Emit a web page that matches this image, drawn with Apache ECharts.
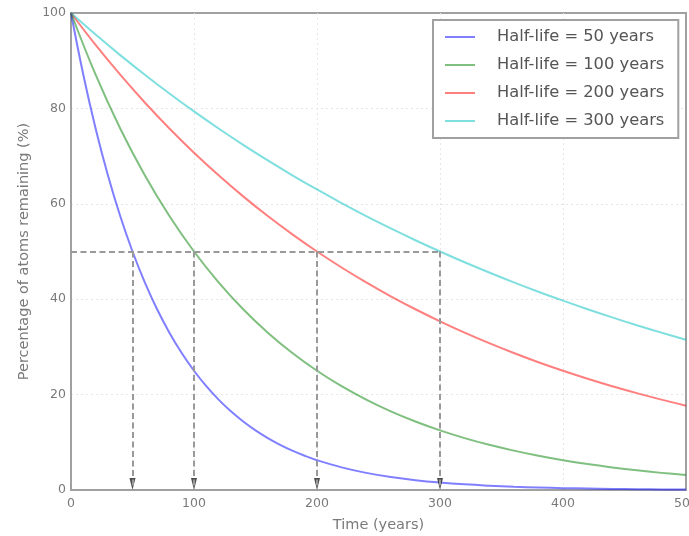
<!DOCTYPE html>
<html>
<head>
<meta charset="utf-8">
<script src="https://cdn.jsdelivr.net/npm/echarts@6/dist/echarts.min.js"></script>
<style>html,body{margin:0;padding:0;background:#fff}#c{width:689px;height:536px}</style>
</head>
<body>
<div id="c"></div>
<script>
// Data
const seriesNames = ['Half-life = 50 years','Half-life = 100 years','Half-life = 200 years','Half-life = 300 years'];
const halfLives = [50, 100, 200, 300];
const times50 = [0,10,20,30,40,50,60,70,80,90,100,110,120,130,140,150,160,170,180,190,200,220,240,260,280,300,320,340,360,380,400,420,440,460,480,500];
const values50 = [100,87.06,75.79,65.98,57.43,50,43.53,37.89,32.99,28.72,25,21.76,18.95,16.49,14.36,12.5,10.88,9.47,8.25,7.18,6.25,4.74,3.59,2.72,2.06,1.56,1.18,0.90,0.68,0.52,0.39,0.30,0.22,0.17,0.13,0.10];
const times = [0,20,40,60,80,100,120,140,160,180,200,220,240,260,280,300,320,340,360,380,400,420,440,460,480,500];
const values100 = [100,87.06,75.79,65.98,57.43,50,43.53,37.89,32.99,28.72,25,21.76,18.95,16.49,14.36,12.5,10.88,9.47,8.25,7.18,6.25,5.44,4.74,4.12,3.59,3.13];
const values200 = [100,93.30,87.06,81.23,75.79,70.71,65.98,61.56,57.43,53.59,50,46.65,43.53,40.61,37.89,35.36,32.99,30.78,28.72,26.79,25,23.33,21.76,20.31,18.95,17.68];
const values300 = [100,95.48,91.17,87.06,83.13,79.37,75.79,72.37,69.10,65.98,63.00,60.15,57.43,54.84,52.36,50,47.74,45.59,43.53,41.56,39.69,37.89,36.18,34.55,32.99,31.50];
const halfLevel = 50;

const colors = ['#0000ff','#008000','#ff0000','#00bfbf'];
const zip = (xs, ys) => xs.map((x, i) => [x, ys[i]]);
const allData = [zip(times50, values50), zip(times, values100), zip(times, values200), zip(times, values300)];

const guideStyle = {color: '#999999', type: [6, 3.5], width: 2};
const markData = [
  [{coord: [0, halfLevel]}, {coord: [halfLives[halfLives.length - 1], halfLevel]}]
].concat(halfLives.map(h => [{coord: [h, halfLevel]}, {coord: [h, 0]}]));

const chart = echarts.init(document.getElementById('c'), null, {renderer: 'canvas'});
const tickFont = {color: '#7a7a7a', fontSize: 12.5, fontFamily: 'DejaVu Sans'};
const gridLine = {show: true, showMinLine: false, showMaxLine: false, lineStyle: {color: '#e6e6e6', type: [2, 3], width: 1}};
chart.setOption({
  animation: false,
  backgroundColor: '#fff',
  grid: {left: 71, right: 3, top: 13, bottom: 46, show: true, borderColor: '#a0a0a0', borderWidth: 2,
         backgroundColor: 'transparent', outerBoundsMode: 'none', containLabel: false},
  xAxis: {
    type: 'value', min: 0, max: 500, interval: 100,
    name: 'Time (years)', nameLocation: 'middle', nameGap: 28,
    nameTextStyle: {color: '#7a7a7a', fontSize: 14.5, fontFamily: 'DejaVu Sans'},
    axisLine: {show: true, lineStyle: {color: '#a0a0a0', width: 2}}, axisTick: {show: false},
    axisLabel: Object.assign({margin: 7}, tickFont),
    splitLine: gridLine
  },
  yAxis: {
    type: 'value', min: 0, max: 100, interval: 20,
    name: 'Percentage of atoms remaining (%)', nameLocation: 'middle', nameGap: 39,
    nameTextStyle: {color: '#7a7a7a', fontSize: 14.5, fontFamily: 'DejaVu Sans'},
    axisLine: {show: true, lineStyle: {color: '#a0a0a0', width: 2}}, axisTick: {show: false},
    axisLabel: Object.assign({margin: 5}, tickFont),
    splitLine: gridLine
  },
  legend: {
    data: seriesNames,
    orient: 'vertical',
    left: 433, top: 20,
    backgroundColor: '#fff',
    borderColor: '#a0a0a0', borderWidth: 2, borderRadius: 0,
    padding: [9, 14, 9, 12],
    itemWidth: 30, itemHeight: 14, itemGap: 12,
    textStyle: {color: '#555', fontSize: 16.3, fontFamily: 'DejaVu Sans', padding: [0, 0, 0, 17]},
    icon: 'path://M0,6 L30,6 L30,8 L0,8 Z'
  },
  series: seriesNames.map((n, i) => ({
    name: n, type: 'line', data: allData[i], smooth: 0.4, showSymbol: false, symbol: 'none',
    lineStyle: {color: colors[i], width: 2, opacity: 0.5},
    itemStyle: {color: colors[i], opacity: 0.5},
    z: 3
  })).concat([{
    name: 'guides', type: 'line', data: [], silent: true, z: 2,
    markLine: {
      silent: true, animation: false, label: {show: false}, symbol: 'none',
      lineStyle: guideStyle,
      emphasis: {disabled: true},
      data: markData
    }
  }, {
    name: 'arrows', type: 'scatter', silent: true, z: 4,
    data: halfLives.map(h => [h, 0]),
    symbol: 'triangle', symbolRotate: 180, symbolSize: [6, 12], symbolOffset: [0, -6],
    itemStyle: {color: '#222'}
  }])
});
</script>
</body>
</html>
